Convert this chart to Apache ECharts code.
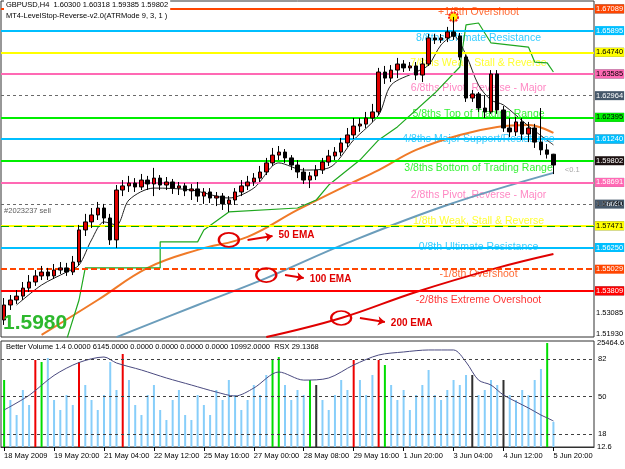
<!DOCTYPE html>
<html>
<head>
<meta charset="utf-8">
<script src="https://cdn.jsdelivr.net/npm/echarts/dist/echarts.min.js"></script>
<style>
  html, body { margin: 0; padding: 0; background: #fff; }
  #chart { width: 625px; height: 469px; }
</style>
</head>
<body>
<div id="chart"></div>
<script>
const FONT = "Liberation Sans, Arial, sans-serif"

// 89 H4 bars + empty chart shift on the right
const barCount = 95
const labelStep = 8
const xLabels = ["18 May 2009", "19 May 20:00", "21 May 04:00", "22 May 12:00", "25 May 16:00",
  "27 May 00:00", "28 May 08:00", "29 May 16:00", "1 Jun 20:00", "3 Jun 04:00", "4 Jun 12:00", "5 Jun 20:00"]

const open = [1.5266,1.5335,1.5358,1.5376,1.5413,1.5441,1.5469,1.5487,1.5469,1.5496,
  1.5506,1.5487,1.5533,1.5681,1.5718,1.5750,1.5782,1.5736,1.5635,1.5865,
  1.5884,1.5897,1.5879,1.5911,1.5893,1.5920,1.5888,1.5902,1.5874,1.5884,
  1.5861,1.5870,1.5837,1.5856,1.5828,1.5837,1.5801,1.5819,1.5856,1.5884,
  1.5902,1.5920,1.5948,1.5990,1.6026,1.6040,1.6013,1.5980,1.5948,1.5911,
  1.5930,1.5957,1.5994,1.6022,1.6040,1.6082,1.6119,1.6160,1.6169,1.6197,
  1.6225,1.6409,1.6381,1.6418,1.6446,1.6428,1.6437,1.6395,1.6446,1.6566,
  1.6557,1.6566,1.6594,1.6575,1.6478,1.6289,1.6308,1.6243,1.6225,1.6400,
  1.6234,1.6151,1.6133,1.6179,1.6123,1.6151,1.6086,1.6050,1.6030]
const close = [1.5335,1.5358,1.5376,1.5413,1.5441,1.5469,1.5487,1.5469,1.5496,1.5506,
  1.5487,1.5533,1.5681,1.5718,1.5750,1.5782,1.5736,1.5635,1.5865,1.5884,
  1.5897,1.5879,1.5911,1.5893,1.5920,1.5888,1.5902,1.5874,1.5884,1.5861,
  1.5870,1.5837,1.5856,1.5828,1.5837,1.5801,1.5819,1.5856,1.5884,1.5902,
  1.5920,1.5948,1.5990,1.6026,1.6040,1.6013,1.5980,1.5948,1.5911,1.5930,
  1.5957,1.5994,1.6022,1.6040,1.6082,1.6119,1.6160,1.6169,1.6197,1.6225,
  1.6409,1.6381,1.6418,1.6446,1.6428,1.6437,1.6395,1.6446,1.6566,1.6557,
  1.6566,1.6594,1.6575,1.6478,1.6289,1.6308,1.6243,1.6225,1.6400,1.6234,
  1.6151,1.6133,1.6179,1.6123,1.6151,1.6086,1.6050,1.6030,1.59802]
const low = [1.5243,1.5312,1.5340,1.5358,1.5395,1.5423,1.5450,1.5450,1.5455,1.5478,
  1.5469,1.5473,1.5519,1.5653,1.5690,1.5727,1.5708,1.5612,1.5598,1.5837,
  1.5856,1.5856,1.5865,1.5865,1.5837,1.5865,1.5865,1.5847,1.5842,1.5837,
  1.5819,1.5810,1.5801,1.5805,1.5791,1.5773,1.5764,1.5796,1.5837,1.5865,
  1.5884,1.5902,1.5934,1.5976,1.6003,1.5990,1.5957,1.5920,1.5893,1.5874,
  1.5911,1.5939,1.5976,1.6003,1.6022,1.6063,1.6100,1.6133,1.6151,1.6179,
  1.6211,1.6354,1.6363,1.6381,1.6409,1.6414,1.6372,1.6363,1.6437,1.6538,
  1.6543,1.6547,1.6557,1.6464,1.6271,1.6271,1.6225,1.6197,1.6216,1.6216,
  1.6133,1.6109,1.6114,1.6096,1.6086,1.6059,1.6026,1.6010,1.59385]
const high = [1.5367,1.5381,1.5404,1.5441,1.5473,1.5496,1.5515,1.5506,1.5524,1.5533,
  1.5529,1.5561,1.5704,1.5755,1.5782,1.5810,1.5801,1.5755,1.5888,1.5911,
  1.5930,1.5920,1.5939,1.5930,1.5967,1.5934,1.5925,1.5916,1.5902,1.5897,
  1.5893,1.5902,1.5874,1.5874,1.5856,1.5851,1.5837,1.5874,1.5911,1.5930,
  1.5943,1.5976,1.6013,1.6059,1.6068,1.6054,1.6026,1.6003,1.5967,1.5948,
  1.5980,1.6013,1.6050,1.6063,1.6105,1.6151,1.6197,1.6197,1.6225,1.6262,
  1.6428,1.6437,1.6441,1.6474,1.6464,1.6455,1.6455,1.6474,1.6584,1.6584,
  1.6584,1.6617,1.6663,1.6589,1.6487,1.6326,1.6317,1.6303,1.6418,1.6418,
  1.6252,1.6197,1.6202,1.6197,1.6179,1.6170,1.6243,1.6077,1.60318]

// indicator lines, [bar index, value]
const fastLine = [[2,1.5335],[6,1.5427],[10,1.5487],[12,1.5519],[14,1.5635],[16,1.5718],[18,1.5704],[20,1.5819],
  [24,1.5874],[30,1.5865],[36,1.5828],[40,1.5874],[44,1.5990],[48,1.5957],[52,1.5967],[56,1.6096],[60,1.6211],
  [62,1.6349],[66,1.6409],[68,1.6441],[70,1.6534],[72,1.6575],[74,1.6487],[76,1.6349],[78,1.6280],[80,1.6257],
  [84,1.6160],[88,1.6073]]
const stopLine = [[10,1.5174],[12,1.5358],[13,1.5506],[25,1.5506],[25,1.5626],[31,1.5626],[32,1.5681],[36,1.5764],
  [47,1.5782],[50,1.5819],[52,1.5888],[55,1.5957],[57,1.6003],[60,1.6096],[63,1.6156],[69,1.6312],[73,1.6432],
  [74,1.6626],[76,1.6635],[78,1.6543],[84,1.6524],[85,1.6455],[87,1.6451],[88,1.6409]]
const ema50 = [[6,1.5197],[15,1.5358],[23,1.5506],[31,1.5589],[39,1.5649],[47,1.5773],[55,1.5888],[60,1.5957],
  [66,1.6050],[73,1.6119],[79,1.6156],[84,1.6165],[88,1.6128]]
const ema100 = [[18,1.5187],[31,1.5335],[42,1.5459],[55,1.5621],[71,1.5796],[88,1.5944]]
const ema200 = [[42,1.5187],[54,1.5275],[66,1.5395],[79,1.5506],[88,1.5570]]

// Murrey math levels
const mmNames = ["+1/8th Overshoot", "8/8ths Ultimate Resistance", "7/8ths Weak, Stall & Reverse",
  "6/8ths Pivot, Reverse - Major", "5/8ths Top of Trading Range", "4/8ths Major Support/Resistance",
  "3/8ths Bottom of Trading Range", "2/8ths Pivot, Reverse - Major", "1/8th Weak, Stall & Reverse",
  "0/8th Ultimate Resistance", "-1/8th Overshoot", "-2/8ths Extreme Overshoot"]
const mmPrices = [1.67089, 1.65895, 1.64740, 1.63585, 1.62395, 1.61240, 1.59912, 1.58691, 1.57471, 1.56250, 1.55029, 1.53809]
const midPrices = [1.66626, 1.65405, 1.64185, 1.62964, 1.61743, 1.60522, 1.59302, 1.58081, 1.56860, 1.55640, 1.54419]
const scalePrices = [1.60085, 1.58895, 1.57740, 1.56585, 1.55420, 1.54240, 1.53085, 1.51930]
const lastPrice = 1.59802

// Better Volume + RSX
const volume = [16405,11508,7835,13956,10284,21302,20812,21792,11508,9059,
  12732,10284,20812,15181,11508,9059,12732,20812,13956,22771,
  16405,10284,7835,12732,15181,9059,6611,11508,13956,7835,
  6611,12732,10284,7835,13956,11508,16405,12732,9059,11508,
  15181,12732,17629,21302,22037,15181,11508,13956,12732,16405,
  15181,11508,9059,12732,16405,13956,21302,16405,12732,17629,
  21302,20078,15181,11508,13956,9059,12732,15181,18853,12732,
  11508,13956,16405,15181,17629,17629,12732,13956,16405,15181,
  16405,12732,11508,13956,12732,16405,19098,25464.6,6145]
const volType = ["churn","n","n","n","n","climax","churn","n","n","n",
  "n","n","climax","n","n","n","n","n","n","climax",
  "n","n","n","n","n","n","n","n","n","n",
  "n","n","n","n","n","n","n","n","n","n",
  "n","n","n","churn","churn","n","n","n","n","churn",
  "low","n","n","n","n","n","climax","n","n","n",
  "climax","churn","n","n","n","n","n","n","n","n",
  "n","n","n","n","n","low","n","n","n","n",
  "low","n","n","n","n","n","n","churn","n"]
const rsx = [[0,38.5],[4,51],[8,68],[12,79],[16,83.7],[18,78.6],[22,72.6],[26,65.8],[30,59.8],[34,53.8],
  [37,50.4],[40,57.2],[44,70.9],[48,64],[52,65.8],[56,76.9],[60,85.4],[64,88],[68,89.7],[72,89.7],
  [74,79.4],[76,64],[78,59.8],[80,51.3],[84,40.2],[86,34.2],[87,31.7],[88,29.1368]]
const rsxLevels = [82, 50, 18]

// styles
const mmStyle = [
  { c: "#ff4500", t: "#fff" }, { c: "#00bfff", t: "#fff" }, { c: "#ffff00", t: "#000" }, { c: "#ff69b4", t: "#000" },
  { c: "#00ee00", t: "#000" }, { c: "#00bfff", t: "#fff" }, { c: "#00ee00", t: "#000", noBox: true }, { c: "#ff69b4", t: "#fff" },
  { c: "#ffff00", t: "#000" }, { c: "#00bfff", t: "#fff" }, { c: "#ff4500", t: "#fff", dash: [6, 3] }, { c: "#ff0000", t: "#fff" }
]
const volColors = { n: "#87cefa", climax: "#ee0000", churn: "#00dd00", low: "#303030" }
const NOLINE = { color: "rgba(0,0,0,0)", width: 0 }

const cats = []
for (let i = 0; i < barCount; i++) cats.push(String(i))
const candles = open.map((o, i) => [o, close[i], low[i], high[i]])

const boxLabel = (bg, fg) => ({
  show: true, position: "end", distance: 1, fontSize: 7.5, fontFamily: FONT,
  padding: [1, 1, 0, 1], backgroundColor: bg, color: fg
})

const levelItems = []
midPrices.forEach(p => levelItems.push({
  yAxis: p, lineStyle: { color: "#6a6a6a", width: 1, type: [3, 3] },
  label: { ...boxLabel("#46586a", "#fff"), formatter: p.toFixed(5) }
}))
scalePrices.forEach(p => levelItems.push({
  yAxis: p, lineStyle: NOLINE,
  label: { ...boxLabel("transparent", "#000"), formatter: p.toFixed(5) }
}))
mmPrices.forEach((p, k) => levelItems.push({
  yAxis: p, lineStyle: { color: mmStyle[k].c, width: 2, type: mmStyle[k].dash || "solid" },
  label: mmStyle[k].noBox ? { show: false } : { ...boxLabel(mmStyle[k].c, mmStyle[k].t), formatter: p.toFixed(5) }
}))
// open order line over the 1/8th level
levelItems.push({ yAxis: mmPrices[8], lineStyle: { color: "#00a000", width: 1, type: [8, 5] }, label: { show: false } })
levelItems.push({
  yAxis: lastPrice, lineStyle: NOLINE,
  label: { ...boxLabel("#1c1010", "#fff"), formatter: lastPrice.toFixed(5) }
})

function callout(at, to, text) {
  return {
    markPoint: {
      silent: true, animation: false,
      data: [{ coord: at, symbol: "circle", symbolSize: [20, 14],
        itemStyle: { color: "rgba(0,0,0,0)", borderColor: "#e00000", borderWidth: 2 }, label: { show: false } }]
    },
    markLine: {
      silent: true, animation: false, symbol: ["none", "arrow"], symbolSize: 7,
      lineStyle: { color: "#e00000", width: 2, type: "solid" },
      label: { show: true, position: "end", distance: 6, formatter: text, color: "#e00000",
        fontWeight: "bold", fontSize: 10, fontFamily: FONT },
      data: [[{ coord: [at[0] + 3, at[1]] }, { coord: to }]]
    }
  }
}

const smallText = { fontSize: 7.5, color: "#000", fontFamily: FONT }

const chart = echarts.init(document.getElementById("chart"))
chart.setOption({
  animation: false,
  backgroundColor: "#fff",
  textStyle: { fontFamily: FONT },
  title: [
    { text: "GBPUSD,H4  1.60300 1.60318 1.59385 1.59802", left: 4, top: 0, padding: [1, 2], backgroundColor: "#fff",
      textStyle: { ...smallText, fontWeight: "normal" } },
    { text: "MT4-LevelStop-Reverse-v2.0(ATRMode 9, 3, 1 )", left: 4, top: 11, padding: [1, 2],
      textStyle: { ...smallText, fontWeight: "normal" } },
    { text: "1.5980", left: 3, top: 313, padding: 0,
      textStyle: { fontSize: 21, fontWeight: "bold", color: "#2db82d", fontFamily: FONT } },
    { text: "Better Volume 1.4 0.0000 6145.0000 0.0000 0.0000 0.0000 0.0000 10992.0000  RSX 29.1368", left: 4, top: 342,
      padding: [1, 2], textStyle: { ...smallText, fontWeight: "normal" } }
  ],
  grid: [
    { left: 1, right: 31, top: 1, height: 336, show: true, borderColor: "#303030", backgroundColor: "#fff" },
    { left: 1, right: 31, top: 341, height: 106, show: true, borderColor: "#303030", backgroundColor: "#fff" }
  ],
  xAxis: [
    { type: "category", gridIndex: 0, data: cats, axisLine: { show: false }, axisTick: { show: false }, axisLabel: { show: false } },
    { type: "category", gridIndex: 1, data: cats,
      axisLine: { lineStyle: { color: "#303030" } },
      axisTick: { show: true, alignWithLabel: true, length: 4, lineStyle: { color: "#000" },
        interval: i => i % labelStep === 0 && i / labelStep < xLabels.length },
      axisLabel: { interval: i => i % labelStep === 0 && i / labelStep < xLabels.length,
        formatter: (v, i) => xLabels[i / labelStep] || "", align: "left", margin: 5, ...smallText } }
  ],
  yAxis: [
    { type: "value", gridIndex: 0, min: 1.51874, max: 1.67364, position: "right",
      axisLine: { show: false }, axisTick: { show: false }, axisLabel: { show: false }, splitLine: { show: false } },
    { type: "value", gridIndex: 1, min: 0, max: 25954, position: "right",
      axisLine: { show: false }, axisTick: { show: false }, axisLabel: { show: false }, splitLine: { show: false } },
    { type: "value", gridIndex: 1, min: 6.91, max: 97.36, position: "right",
      axisLine: { show: false }, axisTick: { show: false }, axisLabel: { show: false }, splitLine: { show: false } }
  ],
  series: [
    { name: "levels", type: "line", xAxisIndex: 0, yAxisIndex: 0, data: [], z: 1,
      markLine: { silent: true, animation: false, symbol: ["none", "none"], data: levelItems } },
    { name: "levelText", type: "scatter", xAxisIndex: 0, yAxisIndex: 0, symbolSize: 0, silent: true, z: 2,
      data: mmPrices.map((p, k) => ({ value: [76, p], name: mmNames[k], label: { color: mmStyle[k].c } })),
      label: { show: true, position: "bottom", distance: 0, formatter: "{b}", fontSize: 10.5, fontFamily: FONT } },
    { name: "200 EMA", type: "line", xAxisIndex: 0, yAxisIndex: 0, data: ema200, smooth: 0.4, symbol: "none", z: 3,
      lineStyle: { color: "#e00000", width: 2 }, ...callout([54, 1.5275], [61, 1.5257], "200 EMA") },
    { name: "100 EMA", type: "line", xAxisIndex: 0, yAxisIndex: 0, data: ema100, smooth: 0.4, symbol: "none", z: 3,
      lineStyle: { color: "#6b9dbb", width: 2 }, ...callout([42, 1.5473], [48, 1.5459], "100 EMA") },
    { name: "50 EMA", type: "line", xAxisIndex: 0, yAxisIndex: 0, data: ema50, smooth: 0.4, symbol: "none", z: 3,
      lineStyle: { color: "#f07a28", width: 2 }, ...callout([36, 1.5635], [43, 1.5653], "50 EMA") },
    { name: "LevelStop", type: "line", xAxisIndex: 0, yAxisIndex: 0, data: stopLine, symbol: "none", z: 3,
      lineStyle: { color: "#1fa81f", width: 1.2 } },
    { name: "fast", type: "line", xAxisIndex: 0, yAxisIndex: 0, data: fastLine, smooth: 0.3, symbol: "none", z: 4,
      lineStyle: { color: "#222", width: 1 } },
    { name: "GBPUSD", type: "candlestick", xAxisIndex: 0, yAxisIndex: 0, data: candles, barWidth: 4, z: 5,
      itemStyle: { color: "#e00000", color0: "#000", borderColor: "#000", borderColor0: "#000", borderWidth: 1 },
      markPoint: { silent: true, animation: false,
        data: [{ coord: [72, 1.6663], symbol: "circle", symbolSize: 9,
          itemStyle: { color: "#ffee00", borderColor: "#ff2020", borderWidth: 2, borderType: [2, 1] }, label: { show: false } }] } },
    { name: "notes", type: "scatter", xAxisIndex: 0, yAxisIndex: 0, symbolSize: 0, silent: true, z: 6,
      data: [
        { value: [0, 1.5768], name: "#2023237 sell", label: { position: "right", color: "#303030" } },
        { value: [91, 1.5957], name: "<0.1", label: { position: "inside", color: "#909090" } }
      ],
      label: { show: true, distance: 0, formatter: "{b}", fontSize: 7.5, fontFamily: FONT } },
    { name: "Better Volume", type: "bar", xAxisIndex: 1, yAxisIndex: 1, barWidth: 2, z: 2,
      data: volume.map((v, i) => ({ value: v, itemStyle: { color: volColors[volType[i]] } })),
      markLine: { silent: true, animation: false, symbol: ["none", "none"], lineStyle: NOLINE,
        data: [
          { yAxis: 25464.6, label: { show: true, position: "end", distance: 3, formatter: "25464.6", ...smallText } },
          { yAxis: 0, label: { show: true, position: "end", distance: 3, formatter: "12.6", ...smallText } }
        ] } },
    { name: "RSX", type: "line", xAxisIndex: 1, yAxisIndex: 2, data: rsx, smooth: 0.3, symbol: "none", z: 3,
      lineStyle: { color: "#4a4a80", width: 1 },
      markLine: { silent: true, animation: false, symbol: ["none", "none"],
        lineStyle: { color: "#404040", width: 1, type: [3, 3] },
        label: { show: true, position: "end", distance: 4, ...smallText, formatter: p => String(p.value) },
        data: rsxLevels.map(v => ({ yAxis: v })) } }
  ]
})
</script>
</body>
</html>
